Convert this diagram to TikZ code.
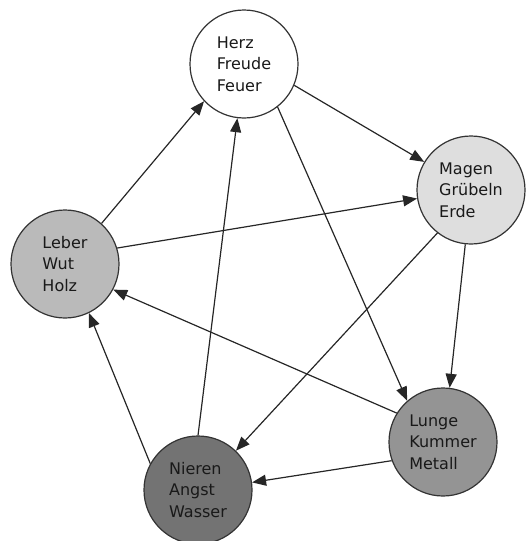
\documentclass[tikz,border=0pt]{standalone}
\usepackage{fontspec}
\setmainfont{DejaVu Sans}
\usetikzlibrary{arrows.meta}

\tikzset{
  organ/.style={circle, draw=black!80, line width=1.2pt, minimum size=108pt, inner sep=0pt,
                align=left, text=black!90, font=\fontsize{16}{21.7}\selectfont},
  arrow/.style={-{Triangle[length=14pt,width=11pt]}, line width=1.2pt, draw=black!85},
}

\begin{document}
\begin{tikzpicture}[x=1pt, y=-1pt]
  \useasboundingbox (0,0) rectangle (526,541);

  % the five elements
  \node[organ, fill=white]    (herz)   at (244,64)  {Herz\\Freude\\Feuer};
  \node[organ, fill=black!13] (magen)  at (471,190) {Magen\\Grübeln\\Erde};
  \node[organ, fill=black!27] (leber)  at (65,264)  {Leber\\Wut\\Holz};
  \node[organ, fill=black!42] (lunge)  at (443,442) {Lunge\\Kummer\\Metall};
  \node[organ, fill=black!55] (nieren) at (198,490) {Nieren\\Angst\\Wasser};

  % outer cycle
  \draw[arrow] (herz.-23)   -- (magen.149);
  \draw[arrow] (magen.-96)  -- (lunge.83);
  \draw[arrow] (lunge.200)  -- (nieren.8);
  \draw[arrow] (nieren.151) -- (leber.-64);
  \draw[arrow] (leber.48)   -- (herz.-137);

  % inner star
  \draw[arrow] (herz.-52)   -- (lunge.131);
  \draw[arrow] (lunge.148)  -- (leber.-28);
  \draw[arrow] (leber.17)   -- (magen.189);
  \draw[arrow] (magen.-128) -- (nieren.46);
  \draw[arrow] (nieren.90)  -- (herz.-97);
\end{tikzpicture}
\end{document}
